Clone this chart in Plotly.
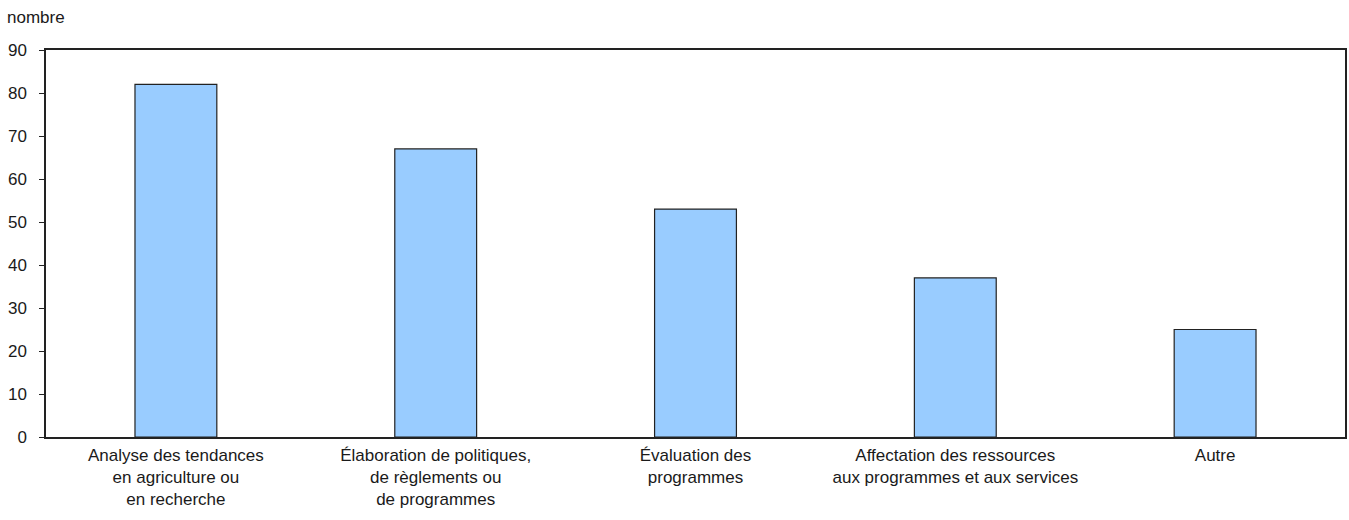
import plotly.graph_objects as go

# categories and values
categories = [
    "Analyse des tendances<br>en agriculture ou<br>en recherche",
    "Élaboration de politiques,<br>de règlements ou<br>de programmes",
    "Évaluation des<br>programmes",
    "Affectation des ressources<br>aux programmes et aux services",
    "Autre",
]
values = [82, 67, 53, 37, 25]
y_ticks = [0, 10, 20, 30, 40, 50, 60, 70, 80, 90]

font_family = "Liberation Sans Narrow, Arial Narrow, Liberation Sans, Arial, sans-serif"

fig = go.Figure()
fig.add_trace(go.Bar(x=categories, y=values, width=0.315,
                     marker=dict(color="#99CCFF", line=dict(color="#222222", width=1.2)),
                     showlegend=False, hoverinfo="skip"))

fig.update_layout(
    width=1349, height=520,
    margin=dict(l=46, r=2, t=50, b=83),
    plot_bgcolor="white", paper_bgcolor="white",
    font=dict(family=font_family, size=17, color="#1a1a1a"),
)
fig.update_xaxes(showline=True, linecolor="#222222", linewidth=1.5, mirror=True,
                 ticks="", showgrid=False, ticklabelstandoff=2)
fig.update_yaxes(range=[0, 90], tickvals=y_ticks, showline=True, linecolor="#222222",
                 linewidth=1.5, mirror=True, ticks="outside", ticklen=5, tickcolor="#222222",
                 showgrid=False, zeroline=False, ticklabelstandoff=9)
fig.add_annotation(text="nombre", xref="paper", yref="paper", x=-0.0315, y=1.0,
                   yshift=33, xanchor="left", yanchor="middle", showarrow=False)

# drop the default page margin so the figure sits at the window's corner
fig.write_html("out.html", config={"displayModeBar": False},
               post_script="document.body.style.margin='0';")
